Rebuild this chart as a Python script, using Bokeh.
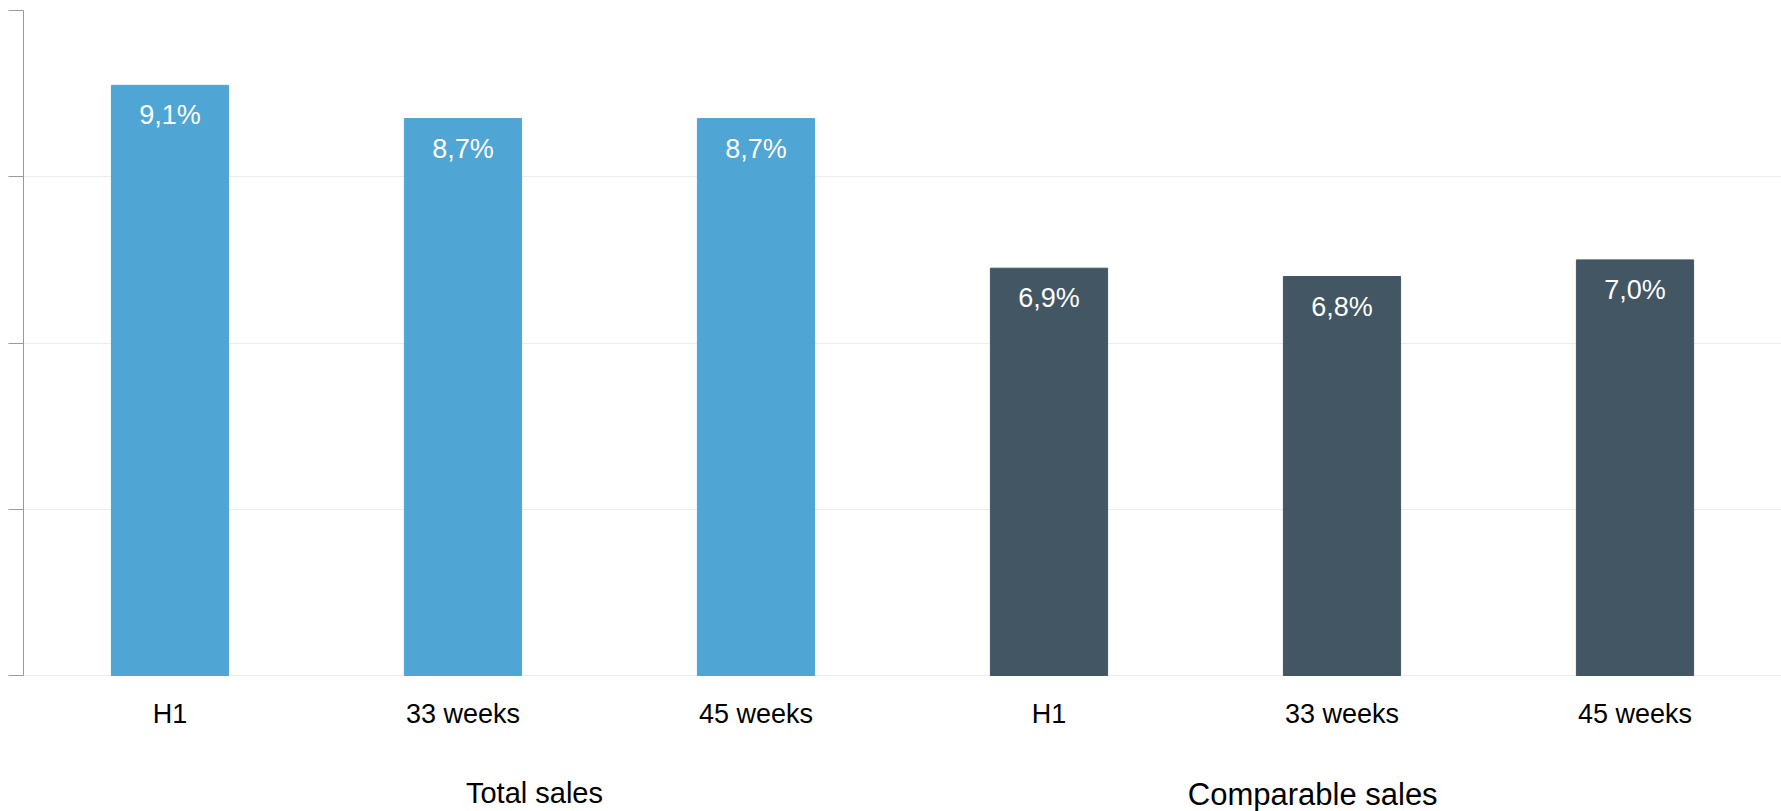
from bokeh.plotting import figure
from bokeh.models import Range1d, FixedTicker, ColumnDataSource
from bokeh.core.properties import value
from bokeh.embed import file_html
from bokeh.resources import INLINE

# ---- data ----
categories = ["H1", "33 weeks", "45 weeks", "H1", "33 weeks", "45 weeks"]
groups = ["Total sales", "Total sales", "Total sales",
          "Comparable sales", "Comparable sales", "Comparable sales"]
values = [9.1, 8.7, 8.7, 6.9, 6.8, 7.0]
group_names = ["Total sales", "Comparable sales"]
group_colors = {"Total sales": "#4FA5D3", "Comparable sales": "#425664"}
y_ticks = [2, 4, 6, 8, 10]

FONT = "Liberation Sans"
Y0, Y1 = y_ticks[0], y_ticks[-1]

# layout (pixels)
W, H = 1781, 811
TOP, BASE = 10, 675          # pixel rows of y=10 and y=2
LEFT = 23
px_per_unit = (BASE - TOP) / (Y1 - Y0)
y_start = Y0 - (H - BASE) / px_per_unit


def below(px):
    """data y that lies px pixels below the baseline"""
    return Y0 - px / px_per_unit


xs = [i + 0.5 for i in range(len(categories))]
labels = [f"{v:.1f}".replace(".", ",") + "%" for v in values]
colors = [group_colors[g] for g in groups]
src = ColumnDataSource(dict(x=xs, top=values, label=labels, color=colors))

p = figure(width=W, height=H, output_backend="svg", toolbar_location=None,
           x_range=Range1d(0, len(categories)), y_range=Range1d(y_start, Y1),
           min_border_left=LEFT, min_border_right=0, min_border_top=TOP,
           min_border_bottom=0)
p.outline_line_color = None
p.background_fill_color = "white"
p.border_fill_color = "white"

p.vbar(x="x", top="top", bottom=Y0, width=0.4, color="color", source=src)
p.text(x="x", y="top", text="label", source=src, text_color="white",
       text_align="center", text_baseline="alphabetic", y_offset=30,
       text_font=value(FONT), text_font_size="27px")

# category labels
cat_src = ColumnDataSource(dict(x=xs, y=[below(38)] * len(xs), t=categories))
p.text(x="x", y="y", text="t", source=cat_src, text_color="black",
       text_align="center", text_baseline="alphabetic",
       text_font=value(FONT), text_font_size="27px")

# group labels
group_x = [1.744, 4.40]
group_y = [below(117), below(119)]
group_fs = ["29px", "31px"]
for name, gx, gy, fs in zip(group_names, group_x, group_y, group_fs):
    p.text(x=[gx], y=[gy], text=[name], text_color="black",
           text_align="center", text_baseline="alphabetic",
           text_font=value(FONT), text_font_size=fs)

# axes
p.xaxis.visible = False
p.yaxis.ticker = FixedTicker(ticks=y_ticks)
p.yaxis.bounds = (Y0, Y1)
p.yaxis.major_label_overrides = {t: "" for t in y_ticks}
p.yaxis.major_label_standoff = 0
p.yaxis.major_tick_out = 15
p.yaxis.major_tick_in = 0
p.yaxis.minor_tick_line_color = None
p.yaxis.axis_line_color = "#9A9A9A"
p.yaxis.major_tick_line_color = "#9A9A9A"

p.xgrid.grid_line_color = None
p.ygrid.grid_line_color = "#ECECEC"
p.ygrid.bounds = (0, len(categories))

open("out.html", "w").write(file_html(p, INLINE))
